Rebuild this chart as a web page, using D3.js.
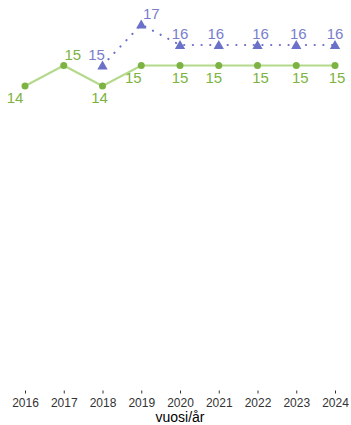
<!DOCTYPE html>
<html>
<head>
<meta charset="utf-8">
<script src="https://cdn.jsdelivr.net/npm/d3@7"></script>
<style>
  body { margin: 0; background: #fff; }
  svg { display: block; font-family: "Liberation Sans", Arial, sans-serif; }
</style>
</head>
<body>
<svg width="351" height="425"></svg>
<script>
const years = [2016, 2017, 2018, 2019, 2020, 2021, 2022, 2023, 2024];
const greenValues = [14, 15, 14, 15, 15, 15, 15, 15, 15];
const purpleYears = [2018, 2019, 2020, 2021, 2022, 2023, 2024];
const purpleValues = [15, 17, 16, 16, 16, 16, 16];

// label nudges (px) so the numbers sit like in the original
const greenNudge = [[-10, 11], [9, -11], [-3, 11], [-8, 12], [0, 12], [-5, 12], [3, 12], [4, 12], [2, 12]];
const purpleNudge = [[-6, -11], [10, -11], [0, -12], [-3, -12], [3, -12], [2, -12], [0, -12]];

const main = function() {
  const svg = d3.select("svg");
  const green = "#7cb342";
  const greenLine = "#b3d98a";
  const purple = "#6b71c9";
  const purpleText = "#787ecc";

  const x = d3.scaleLinear().domain([2016, 2024]).range([25, 335]);
  const y = d3.scaleLinear().domain([0, 17]).range([373, 24.5]);

  const green_data = years.map((yr, i) => ({ year: yr, value: greenValues[i], nudge: greenNudge[i] }));
  const purple_data = purpleYears.map((yr, i) => ({ year: yr, value: purpleValues[i], nudge: purpleNudge[i] }));

  const line = d3.line().x(d => x(d.year)).y(d => y(d.value));

  // axis
  const axis = svg.append("g")
    .attr("transform", "translate(0, 390.5)")
    .call(d3.axisBottom(x).tickValues(years).tickFormat(d3.format("d")).tickSize(3).tickPadding(5));
  axis.select(".domain").remove();
  axis.selectAll(".tick line").attr("stroke", "#333").attr("stroke-width", 1);
  axis.selectAll(".tick text").attr("fill", "#333").style("font-size", "12px")
    .style("font-family", "Liberation Sans, Arial, sans-serif");

  svg.append("text")
    .attr("x", x(2020))
    .attr("y", 422)
    .attr("text-anchor", "middle")
    .attr("fill", "#000")
    .style("font-size", "14px")
    .text("vuosi/år");

  // purple dotted series
  svg.append("path")
    .datum(purple_data)
    .attr("d", line)
    .attr("fill", "none")
    .attr("stroke", purple)
    .attr("stroke-width", 2.2)
    .attr("stroke-linecap", "round")
    .attr("stroke-dasharray", "0.1 8.6");

  // green series
  svg.append("path")
    .datum(green_data)
    .attr("d", line)
    .attr("fill", "none")
    .attr("stroke", greenLine)
    .attr("stroke-width", 2);

  svg.selectAll("circle.g")
    .data(green_data)
    .enter()
    .append("circle")
    .attr("class", "g")
    .attr("cx", d => x(d.year))
    .attr("cy", d => y(d.value))
    .attr("r", 3.5)
    .attr("fill", green);

  const tri = d3.symbol().type(d3.symbolTriangle).size(46);
  svg.selectAll("path.t")
    .data(purple_data)
    .enter()
    .append("path")
    .attr("class", "t")
    .attr("d", tri)
    .attr("transform", d => `translate(${x(d.year)}, ${y(d.value) + 1})`)
    .attr("fill", purple);

  svg.selectAll("text.gl")
    .data(green_data)
    .enter()
    .append("text")
    .attr("class", "gl")
    .attr("x", d => x(d.year) + d.nudge[0])
    .attr("y", d => y(d.value) + d.nudge[1])
    .attr("text-anchor", "middle")
    .attr("dominant-baseline", "central")
    .attr("fill", green)
    .style("font-size", "15px")
    .text(d => d.value);

  svg.selectAll("text.pl")
    .data(purple_data)
    .enter()
    .append("text")
    .attr("class", "pl")
    .attr("x", d => x(d.year) + d.nudge[0])
    .attr("y", d => y(d.value) + d.nudge[1])
    .attr("text-anchor", "middle")
    .attr("dominant-baseline", "central")
    .attr("fill", purpleText)
    .style("font-size", "15px")
    .text(d => d.value);
};

window.onload = main;
</script>
</body>
</html>
